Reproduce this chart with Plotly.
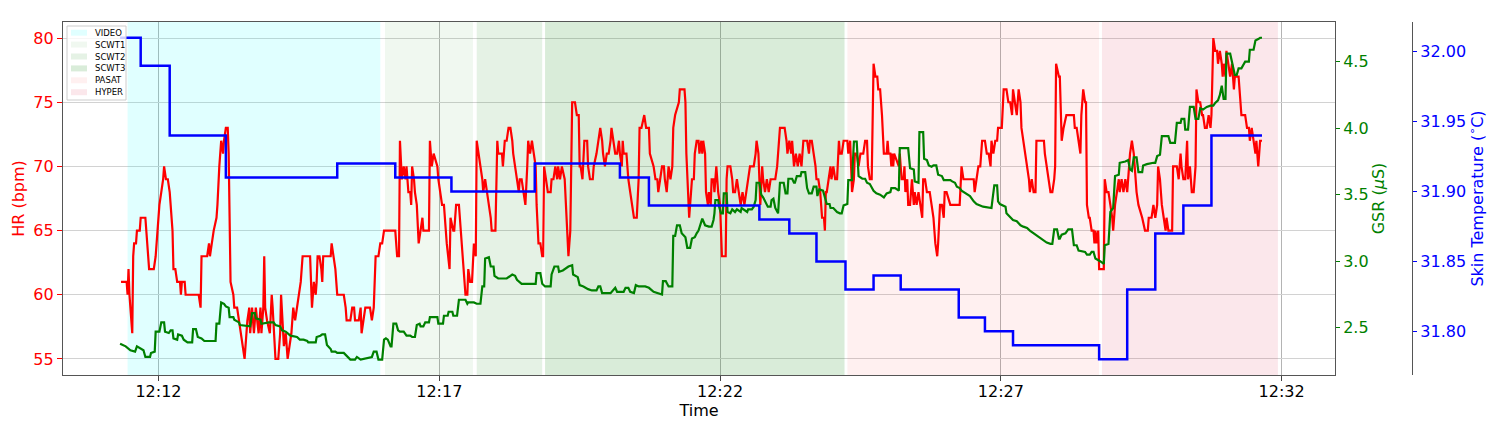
import plotly.graph_objects as go

# ---------------- data (time = seconds after 12:11:00) ----------------
hr_time = [20,26,27,28,29,32,33,34,36,37,40,41,46,48,49,50,55,57,58,59,61,63,65,66,68,70,72,73,75,76,78,80,83,84,85,88,89,103,105,106,112,114,115,117,119,122,123,125,127,129,130,132,134,135,136,137,140,141,144,146,148,152,154,155,157,158,160,162,164,167,169,170,172,173,174,176,179,181,182,184,185,188,190,191,193,194,196,198,202,204,206,208,
212,214,222,224,226,228,229,230,232,234,235,236,244,245,247,249,251,258,260,261,265,267,269,270,274,276,277,279,281,286,288,290,292,295,297,299,301,313,315,317,318,320,322,324,325,326,327,329,330,331,333,334,336,338,340,342,343,349,350,352,354,358,359,361,363,365,366,368,371,372,375,376,378,381,382,384,386,388,390,391,393,395,397,399,400,402,404,406,407,409,411,413,415,
416,420,422,423,427,428,429,430,432,434,436,438,439,441,443,445,446,448,450,452,454,455,457,459,461,463,464,466,468,470,471,472,474,476,479,480,482,484,486,487,489,491,494,496,497,498,500,502,505,507,509,510,511,513,515,518,519,521,524,525,528,530,532,534,535,537,539,541,543,544,546,548,550,552,553,555,556,557,560,562,564,566,568,571,573,574,576,579,581,584,585,589,591,593,594,596,598,600,601,603,605,607,609,610,612,616,617,
622,623,624,625,626,627,629,630,632,633,635,637,638,640,641,642,644,645,647,648,650,651,653,654,656,657,658,660,662,666,667,668,671,673,674,676,678,680,682,684,686,688,690,692,696,698,699,701,703,705,706,708,710,712,714,719,721,724,729,731,732,734,736,737,739,741,743,745,747,749,753,755,756,758,760,762,763,765,767,769,771,772,773,774,776,778,779,781,783,785,787,788,790,792,796,797,799,801,803,804,806,808,810,813,815,817,818,820,
822,824,826,828,829,831,833,835,838,839,840,842,843,844,845,846,851,852,853,854,856,857,858,860,861,863,865,867,868,870,872,874,876,877,879,881,884,886,888,890,892,893,895,897,899,900,902,906,916,918,920,931,932,934,936,938,940,943,945,947,949,950,952,954,956,957,961,963,966,968,970,972,973,975,977,979,981,982,984,986,988,990,991,993,995,997,998,1006,1007,1009,1011,1013,1015,1017,1018,1019,1022,
1023,1025,1027,1030,1038,1039,1041,1043,1045,1046,1047,1048,1050,1051,1052,1054,1055,1057,1059,1060,1061,1062,1064,1065,1070,1071,1073,1075,1077,1079,1080,1081,1082,1084,1086,1087,1089,1091,1093,1095,1096,1098,1100,1102,1103,1105,1107,1111,1114,1117,1118,1121,1123,1125,1127,1128,1130,1132,1134,1136,1137,1139,1143,1144,1148,1150,1152,1153,1155,1157,1159,1160,1162,1164,1166,1168,1169,1171,1173,1175,1176,1178,1180,1182,1184,1185,1187,1189,1191,1192,1194,1196,1197,1198,1200,1201,1203,1205,1207,1209,1210,1214,1216,1217,1221,1223,1225,1226,1228,1230,1232,1233,1235,1237,1239]
hr_bpm = [61,61,60,62,60,57,63,64,64,65,65,66,66,64,63,62,62,63,64,65,67,68,69,70,69,69,68,67,65,62,62,61,61,60,61,61,60,60,59,63,63,64,63,64,65,66,67,70,72,71,72,73,73,71,65,61,60,59,59,58,57,55,57,58,59,57,59,57,59,57,59,57,59,63,59,58,57,60,59,56,55,55,57,60,57,56,57,55,57,59,58,59,
61,63,63,59,61,60,61,63,63,62,61,63,63,64,63,62,60,60,59,58,58,59,59,58,58,59,57,58,59,59,58,59,63,63,64,64,65,65,63,63,72,69,70,69,70,69,68,68,67,70,69,68,67,64,65,66,65,65,72,70,71,70,69,68,67,67,66,64,62,66,65,65,67,67,66,64,62,60,60,62,61,61,64,63,72,71,70,69,68,69,68,67,66,
65,65,72,71,71,70,71,72,72,73,73,72,71,70,69,68,69,69,68,67,70,72,71,72,71,70,67,64,64,63,63,70,69,68,68,69,69,70,69,70,69,70,69,66,64,63,65,75,75,74,74,70,70,69,72,72,70,69,69,70,71,72,73,72,71,70,71,71,72,73,72,71,71,72,71,70,72,71,71,69,68,67,66,66,69,73,73,74,73,73,71,70,69,69,68,69,70,70,69,68,70,69,70,73,74,75,76,
76,75,71,69,68,66,68,69,69,71,72,72,71,72,71,72,71,68,67,68,67,69,69,68,70,69,68,67,63,63,69,70,70,69,68,68,69,68,67,68,67,68,69,70,70,71,72,71,67,70,69,68,69,68,69,69,70,73,73,72,71,72,71,72,70,71,70,71,70,72,72,71,72,72,71,70,69,69,68,66,66,65,68,68,69,70,69,70,69,69,72,71,71,72,72,71,72,68,69,71,71,70,71,71,72,72,70,69,
69,78,77,77,76,76,74,71,71,72,71,71,70,71,70,71,70,71,70,69,69,70,68,69,67,67,69,67,68,67,68,67,66,69,69,68,68,67,66,64,63,64,67,67,66,68,68,67,67,70,69,69,68,69,70,70,72,72,71,71,70,72,71,72,72,73,73,76,76,75,75,74,76,75,74,76,75,73,72,71,70,69,68,69,68,68,72,72,71,70,69,68,68,69,70,78,77,
77,72,73,74,74,73,73,72,71,74,75,76,75,75,67,66,66,65,65,64,65,64,65,62,62,69,68,68,67,66,65,66,67,68,69,68,69,68,69,68,69,71,72,71,70,68,67,66,65,65,66,66,67,66,67,70,69,67,66,65,66,65,65,70,70,69,71,70,69,69,72,69,70,68,68,70,76,75,75,74,74,73,73,74,73,74,80,79,79,78,79,78,77,78,77,79,78,77,78,76,77,77,75,74,74,73,73,72,73,72,71,72,70,72,72]

gsr_time = [19,25,30,35,37,42,44,46,51,52,56,57,61,63,66,67,71,73,75,76,80,81,85,87,91,96,97,100,102,106,109,121,122,125,127,130,132,135,136,140,141,146,147,158,160,163,164,169,170,178,183,185,190,192,196,201,208,211,
215,219,220,228,229,233,235,238,240,244,245,249,251,258,261,265,270,272,276,283,288,290,293,295,299,301,303,305,308,309,311,314,316,318,322,325,329,331,334,336,339,340,343,345,349,350,354,358,359,364,365,369,370,374,375,379,381,384,388,390,391,395,397,400,404,406,408,409,413,415,
418,419,423,432,434,438,441,443,448,463,464,468,470,473,479,480,483,487,488,492,498,502,503,508,510,514,519,523,528,530,532,534,543,548,550,557,559,562,564,568,570,573,580,584,589,593,598,599,602,605,609,610,612,614,617,
619,623,625,628,630,633,635,637,641,644,648,651,653,654,655,658,659,661,663,664,667,668,671,673,676,678,682,683,689,690,694,696,698,699,702,704,706,708,711,714,715,717,719,722,724,728,730,732,733,737,739,740,742,746,747,751,753,755,758,760,763,764,766,770,772,774,777,778,781,785,788,790,792,796,797,801,803,806,808,812,815,817,820,
824,827,831,835,838,842,843,847,851,852,856,861,863,867,868,872,873,877,878,881,883,886,888,891,893,897,899,906,908,911,913,916,918,922,924,927,931,934,941,950,951,953,956,957,959,963,965,966,970,973,977,981,984,988,991,995,998,1002,1006,1009,1013,1015,1017,1020,1022,
1023,1025,1029,1032,1036,1038,1041,1043,1050,1052,1055,1057,1059,1061,1064,1066,1070,1071,1075,1077,1080,1082,1086,1087,1093,1096,1098,1100,1102,1105,1107,1111,1112,1116,1123,1125,1127,1130,1132,1139,1141,1146,1148,1152,1153,1156,1157,1160,1162,1166,1168,1171,1173,1176,1180,1184,1187,1189,1192,1194,1196,1198,1200,1201,1205,1207,1210,1212,1214,1217,1221,1225,1226,1230,1232,1235,1237,1239]
gsr_us = [2.38,2.36,2.33,2.32,2.36,2.34,2.33,2.28,2.28,2.31,2.32,2.47,2.47,2.54,2.54,2.47,2.46,2.48,2.48,2.42,2.41,2.45,2.44,2.41,2.39,2.39,2.49,2.49,2.43,2.42,2.40,2.40,2.53,2.53,2.69,2.68,2.66,2.65,2.58,2.58,2.56,2.54,2.52,2.51,2.61,2.61,2.57,2.56,2.53,2.54,2.54,2.52,2.51,2.48,2.47,2.44,2.43,2.41,
2.41,2.40,2.39,2.39,2.43,2.44,2.45,2.45,2.37,2.34,2.32,2.32,2.31,2.31,2.29,2.26,2.26,2.28,2.26,2.27,2.28,2.32,2.32,2.26,2.26,2.41,2.42,2.41,2.36,2.36,2.53,2.53,2.48,2.47,2.47,2.44,2.44,2.43,2.43,2.52,2.53,2.51,2.51,2.54,2.54,2.58,2.58,2.58,2.53,2.53,2.59,2.59,2.62,2.62,2.59,2.59,2.71,2.71,2.71,2.68,2.69,2.69,2.69,2.68,2.68,2.81,2.81,3.02,3.03,2.96,
2.96,2.89,2.87,2.87,2.88,2.90,2.89,2.86,2.83,2.83,2.91,2.91,2.83,2.81,2.81,2.90,2.96,2.96,2.92,2.93,2.96,2.97,2.90,2.88,2.82,2.81,2.79,2.78,2.78,2.81,2.81,2.76,2.76,2.80,2.77,2.77,2.80,2.80,2.77,2.76,2.82,2.81,2.81,2.80,2.77,2.76,2.75,2.85,2.85,2.81,2.81,3.19,3.19,3.27,3.27,
3.21,3.18,3.10,3.10,3.17,3.18,3.21,3.23,3.32,3.27,3.26,3.26,3.31,3.36,3.46,3.46,3.41,3.36,3.36,3.51,3.51,3.37,3.36,3.39,3.37,3.39,3.37,3.40,3.37,3.39,3.39,3.41,3.46,3.59,3.59,3.50,3.48,3.45,3.41,3.41,3.46,3.47,3.40,3.36,3.59,3.59,3.51,3.51,3.62,3.62,3.59,3.59,3.64,3.64,3.67,3.67,3.55,3.51,3.51,3.56,3.56,3.49,3.54,3.53,3.47,3.43,3.43,3.40,3.40,3.37,3.36,3.36,3.42,3.43,3.61,3.61,3.90,3.90,3.64,3.62,3.62,3.59,3.58,
3.53,3.51,3.50,3.48,3.51,3.52,3.55,3.55,3.53,3.85,3.85,3.85,3.70,3.69,3.60,3.59,3.97,3.97,3.77,3.76,3.72,3.71,3.72,3.72,3.65,3.64,3.61,3.61,3.60,3.59,3.56,3.55,3.53,3.51,3.50,3.49,3.45,3.43,3.41,3.40,3.46,3.57,3.57,3.45,3.43,3.42,3.41,3.36,3.33,3.31,3.30,3.27,3.26,3.25,3.23,3.21,3.20,3.18,3.16,3.14,3.13,3.13,3.24,3.24,3.17,
3.17,3.20,3.21,3.24,3.24,3.12,3.12,3.08,3.07,3.05,3.05,3.07,3.07,3.02,3.01,3.00,2.98,3.12,3.13,3.37,3.40,3.64,3.65,3.74,3.75,3.76,3.69,3.68,3.78,3.78,3.67,3.67,3.72,3.73,3.74,3.74,3.79,3.80,3.94,3.94,3.89,3.89,4.04,4.04,4.07,4.07,3.99,3.99,4.16,4.16,4.07,4.07,4.15,4.14,4.16,4.17,4.17,4.19,4.21,4.25,4.32,4.22,4.22,4.56,4.56,4.49,4.40,4.40,4.45,4.45,4.50,4.50,4.59,4.59,4.66,4.67,4.68,4.68]

temp_time = [19,41,72,132,251,313,373,462,553,584,702,734,763,794,824,853,915,943,973,1065,1095,1125,1155,1185,1239]
temp_c = [32.01,31.99,31.94,31.91,31.92,31.91,31.90,31.92,31.91,31.89,31.88,31.87,31.85,31.83,31.84,31.83,31.81,31.80,31.79,31.78,31.83,31.87,31.89,31.94,31.94]

phase_names = ["VIDEO", "SCWT1", "SCWT2", "SCWT3", "PASAT", "HYPER"]
phase_start = [27, 302, 400, 473, 796, 1068]
phase_end = [297, 396, 470, 793, 1065, 1256]
phase_colors = ["rgba(0,255,255,0.12)", "rgba(0,128,0,0.06)", "rgba(0,128,0,0.10)",
                "rgba(0,128,0,0.15)", "rgba(255,0,0,0.06)", "rgba(220,20,60,0.10)"]

tick_secs = [60, 360, 660, 960, 1260]
tick_labels = ["12:12", "12:17", "12:22", "12:27", "12:32"]

hr_ticks = [55, 60, 65, 70, 75, 80]
gsr_ticks = [2.5, 3.0, 3.5, 4.0, 4.5]
temp_ticks = [31.80, 31.85, 31.90, 31.95, 32.00]

HR_RANGE = [53.75, 81.25]
GSR_RANGE = [2.1444, 4.7985]
TEMP_RANGE = [31.7688, 32.0212]

FONT = "DejaVu Sans"
# The page body adds an 8 px offset, so the figure is drawn 16 px smaller each way.
W, H = 1484, 414
ML, MR, MT, MB = 55, 14, 14, 47
PLOT_W = 1272
PLOT_H = H - MT - MB
PAPER_W = W - ML - MR
TEMP_AXIS_X = 1404  # figure px of the skin temperature axis line

fig = go.Figure()

for name, a, b, col in zip(phase_names, phase_start, phase_end, phase_colors):
    fig.add_trace(go.Scatter(
        x=[a, a, b, b, a], y=[HR_RANGE[0], HR_RANGE[1], HR_RANGE[1], HR_RANGE[0], HR_RANGE[0]],
        mode="none", fill="toself", fillcolor=col, name=name, showlegend=False,
        hoverinfo="skip", xaxis="x", yaxis="y"))

fig.add_trace(go.Scatter(x=hr_time, y=hr_bpm, mode="lines", line=dict(color="#ff0000", width=2.2),
                         showlegend=False, xaxis="x", yaxis="y"))
fig.add_trace(go.Scatter(x=gsr_time, y=gsr_us, mode="lines", line=dict(color="#008000", width=2.2),
                         showlegend=False, xaxis="x", yaxis="y2"))
fig.add_trace(go.Scatter(x=temp_time, y=temp_c, mode="lines", line=dict(color="#0000ff", width=2.5, shape="hv"),
                         showlegend=False, xaxis="x", yaxis="y3"))

# ---- manual legend (matplotlib-like compact box) ----
def dx(px):  # pixel offset from plot left -> x domain fraction
    return px / PLOT_W

def dy(py):  # pixel offset from plot top -> y domain fraction
    return 1 - py / PLOT_H

shapes = [dict(type="rect", xref="x domain", yref="y domain",
               x0=dx(4), x1=dx(63), y0=dy(78), y1=dy(4),
               fillcolor="rgba(255,255,255,0.8)", line=dict(color="#cccccc", width=1), layer="above")]
annotations = []
for i, (name, col) in enumerate(zip(phase_names, phase_colors)):
    yc = 10.7 + 11.9 * i
    shapes.append(dict(type="rect", xref="x domain", yref="y domain",
                       x0=dx(8), x1=dx(24), y0=dy(yc + 3), y1=dy(yc - 3),
                       fillcolor=col, line=dict(width=0), layer="above"))
    annotations.append(dict(xref="x domain", yref="y domain", x=dx(30), y=dy(yc),
                            text=name, showarrow=False, xanchor="left", yanchor="middle",
                            font=dict(size=8.5, family=FONT, color="black")))

fig.update_layout(
    width=W, height=H,
    margin=dict(l=ML, r=MR, t=MT, b=MB, autoexpand=False),
    paper_bgcolor="white", plot_bgcolor="white",
    font=dict(family=FONT, size=16, color="black"),
    showlegend=False,
    shapes=shapes, annotations=annotations,
    xaxis=dict(domain=[0, PLOT_W / PAPER_W], range=[-42, 1317], tickvals=tick_secs, ticktext=tick_labels,
               showgrid=True, gridcolor="#b4b4b4", gridwidth=1, zeroline=False, automargin=False,
               ticks="outside", ticklen=5, tickcolor="#444", showline=True, mirror=True,
               linecolor="#555", linewidth=1.2, ticklabelstandoff=-3,
               title=dict(text="Time", font=dict(size=16), standoff=0),
               tickfont=dict(size=16, color="black")),
    yaxis=dict(range=HR_RANGE, tickvals=hr_ticks, showgrid=True, gridcolor="#d2d2d2", gridwidth=1,
               zeroline=False, automargin=False, ticks="outside", ticklen=5, tickcolor="#ff0000",
               showline=True, mirror=True, linecolor="#555", linewidth=1.2,
               tickfont=dict(size=16, color="#ff0000"),
               title=dict(text="HR (bpm)", font=dict(size=16, color="#ff0000"), standoff=4)),
    yaxis2=dict(range=GSR_RANGE, tickvals=gsr_ticks, ticktext=["%.1f" % v for v in gsr_ticks],
                overlaying="y", side="right", anchor="x", showgrid=False, zeroline=False, automargin=False,
                ticks="outside", ticklen=4, tickcolor="#008000",
                tickfont=dict(size=16, color="#008000"),
                title=dict(text="GSR (<i>μ</i>S)", font=dict(size=16, color="#008000"), standoff=4)),
    yaxis3=dict(range=TEMP_RANGE, tickvals=temp_ticks, ticktext=["%.2f" % v for v in temp_ticks],
                overlaying="y", side="right", anchor="free", position=(TEMP_AXIS_X - ML) / PAPER_W,
                showgrid=False, zeroline=False, automargin=False, showline=True, linecolor="#555", linewidth=1.2,
                ticks="outside", ticklen=4, tickcolor="#0000ff",
                tickfont=dict(size=16, color="#0000ff"),
                title=dict(text="Skin Temperature (<sup>∘</sup>C)", font=dict(size=16, color="#0000ff"), standoff=4)),
)

fig.write_html("out.html")
